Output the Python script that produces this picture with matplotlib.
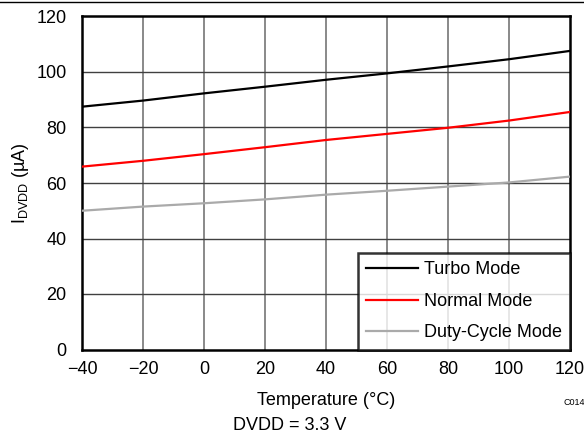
import matplotlib
matplotlib.use("Agg")
import matplotlib.pyplot as plt
from matplotlib.lines import Line2D

plt.rcParams['font.family'] = ['Liberation Sans', 'DejaVu Sans']

temp = [-40, -20, 0, 20, 40, 60, 80, 100, 120]
turbo = [87.5, 89.7, 92.3, 94.7, 97.2, 99.5, 102.0, 104.6, 107.6]
normal = [65.9, 68.0, 70.4, 72.9, 75.5, 77.7, 79.9, 82.5, 85.6]
duty = [50.0, 51.5, 52.7, 54.1, 55.8, 57.2, 58.7, 60.2, 62.3]

fig = plt.figure(figsize=(5.84, 4.4), dpi=100)
ax = fig.add_axes([82/584, 1-349.5/440, (570-82)/584, (349.5-16.5)/440])

# grid: vertical grey, horizontal darker
for x in range(-20, 120, 20):
    ax.axvline(x, color='#808080', lw=1.3, zorder=1)
for y in range(20, 120, 20):
    ax.axhline(y, color='#404040', lw=1.0, zorder=1)

ax.plot(temp, turbo, color='black', lw=1.6, label='Turbo Mode', zorder=3)
ax.plot(temp, normal, color='#ff0000', lw=1.6, label='Normal Mode', zorder=3)
ax.plot(temp, duty, color='#aaaaaa', lw=1.6, label='Duty-Cycle Mode', zorder=3)

ax.set_xlim(-40, 120)
ax.set_ylim(0, 120)
ax.set_xticks(range(-40, 121, 20))
ax.set_yticks(range(0, 121, 20))
ax.tick_params(length=0, labelsize=13)
ax.tick_params(axis='y', pad=11)
ax.tick_params(axis='x', pad=8)
for s in ax.spines.values():
    s.set_linewidth(1.8)

ax.set_xlabel('Temperature (°C)', fontsize=13, labelpad=10)
ax.set_ylabel('I$_{\\mathregular{DVDD}}$ (µA)', fontsize=13, labelpad=4)

leg = ax.legend(loc='lower right', fontsize=13, frameon=True, fancybox=False,
                borderaxespad=0, handlelength=2.9, labelspacing=0.8,
                borderpad=0.45, handletextpad=0.3)
leg.get_frame().set_edgecolor('black')
leg.get_frame().set_linewidth(1.8)
leg.set_zorder(5)

fig.text(563/584, 1-402/440, 'C014', fontsize=6.5, ha='left', va='center')
fig.text(290/584, 1-425/440, 'DVDD = 3.3 V', fontsize=13, ha='center', va='center')
fig.add_artist(Line2D([0, 1], [1-2.5/440, 1-2.5/440], color='black', lw=1.0))

fig.savefig('out.png', dpi=100)
